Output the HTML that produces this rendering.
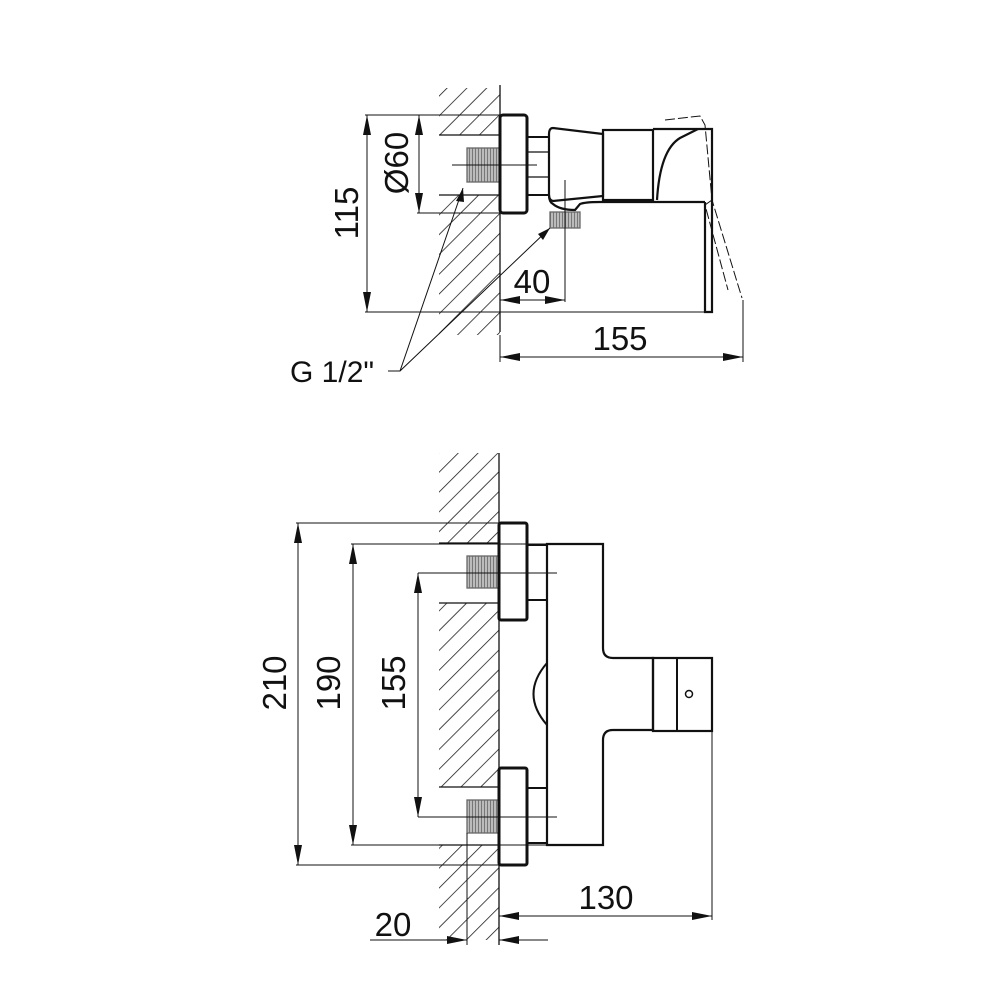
<!DOCTYPE html>
<html><head><style>html,body{margin:0;padding:0;background:#fff}svg{display:block}text{font-family:"Liberation Sans",Arial,sans-serif;fill:#111}</style></head>
<body>
<svg width="1000" height="1000" viewBox="0 0 1000 1000" xmlns="http://www.w3.org/2000/svg">
<defs>
<pattern id="h" patternUnits="userSpaceOnUse" width="14" height="14" patternTransform="rotate(45)">
<line x1="0" y1="0" x2="0" y2="14" stroke="#111" stroke-width="1.5"/>
</pattern>
<pattern id="t" patternUnits="userSpaceOnUse" width="3" height="3">
<rect width="3" height="3" fill="#bbb"/><line x1="1.5" y1="0" x2="1.5" y2="3" stroke="#666" stroke-width="0.8"/>
</pattern>
<marker id="b" viewBox="0 0 20 8" refX="20" refY="4" markerWidth="20" markerHeight="8" orient="auto-start-reverse" markerUnits="userSpaceOnUse"><path d="M0,0 L20,4 L0,8 z" fill="#111"/></marker>
</defs>
<g fill="none" stroke="#111" stroke-width="1.3">
<rect x="439" y="88" width="61" height="47" fill="url(#h)" stroke="none"/>
<rect x="439" y="195" width="61" height="140" fill="url(#h)" stroke="none"/>
<line x1="500" y1="85" x2="500" y2="332"/>
<line x1="439" y1="135" x2="500" y2="135"/>
<line x1="439" y1="195" x2="500" y2="195"/>
<rect x="467" y="148" width="33" height="34" fill="url(#t)" stroke="#666"/>
<rect x="500" y="115" width="27" height="98" rx="3" stroke-width="3"/>
<rect x="527" y="137" width="22" height="58" stroke-width="2"/>
<line x1="527" y1="152" x2="549" y2="152"/><line x1="527" y1="177" x2="549" y2="177"/>
<path d="M553,128 L603,134 L603,196 L553,201 Q549,200 549,195 L549,134 Q549,128 553,128 z" stroke-width="2.2"/>
<rect x="603" y="130" width="50" height="70" stroke-width="2.2"/>
<path d="M549,195 Q549,202 553,204 Q560,210 575,210 L580,204 Q585,202 600,202 L705,202" stroke-width="2.2"/>
<rect x="550" y="212" width="30" height="16" fill="url(#t)" stroke="#666"/>
<path d="M653,129 L712,129 L712,312 L705,312 L705,202" stroke-width="2.2"/>
<path d="M657,200 Q660,150 680,138 L698,129" stroke-width="2.2"/>
<path d="M665,120 L700,116 L705,125 L712,200 L738,285 L742,298 M712,200 L705,205 L728,290" stroke-width="1" stroke-dasharray="10,3"/>
<line x1="565" y1="180" x2="565" y2="302" stroke-width="1"/>
<line x1="452" y1="165" x2="537" y2="165" stroke-width="1"/>
<line x1="365" y1="115" x2="500" y2="115" stroke-width="1"/>
<line x1="365" y1="312" x2="707" y2="312" stroke-width="1"/>
<line x1="367" y1="115" x2="367" y2="312" stroke-width="1" marker-start="url(#b)" marker-end="url(#b)"/>
<line x1="417" y1="213" x2="500" y2="213" stroke-width="1"/>
<line x1="419" y1="115" x2="419" y2="213" stroke-width="1" marker-start="url(#b)" marker-end="url(#b)"/>
<line x1="500" y1="300" x2="565" y2="300" stroke-width="1" marker-start="url(#b)" marker-end="url(#b)"/>
<line x1="500" y1="335" x2="500" y2="362" stroke-width="1"/>
<line x1="743" y1="300" x2="743" y2="362" stroke-width="1"/>
<line x1="500" y1="357" x2="743" y2="357" stroke-width="1" marker-start="url(#b)" marker-end="url(#b)"/>
<path d="M388,371 L400,371 L463,188 M400,371 L550,228" stroke-width="1"/>
<path d="M463,188 l-7,13 l8,1 z M550,228 l-12,6 l5,6 z" fill="#111" stroke="none"/>
<rect x="439" y="453" width="60" height="90" fill="url(#h)" stroke="none"/>
<rect x="439" y="603" width="60" height="184" fill="url(#h)" stroke="none"/>
<rect x="439" y="845" width="60" height="95" fill="url(#h)" stroke="none"/>
<line x1="499" y1="453" x2="499" y2="945"/>
<line x1="439" y1="543" x2="499" y2="543"/><line x1="439" y1="603" x2="499" y2="603"/>
<line x1="439" y1="787" x2="499" y2="787"/><line x1="439" y1="845" x2="499" y2="845"/>
<rect x="467" y="556" width="32" height="32" fill="url(#t)" stroke="#666"/>
<rect x="467" y="800" width="32" height="33" fill="url(#t)" stroke="#666"/>
<rect x="499" y="523" width="28" height="97" rx="2" stroke-width="3"/>
<rect x="499" y="768" width="28" height="97" rx="2" stroke-width="3"/>
<rect x="527" y="545" width="20" height="55" stroke-width="2"/>
<rect x="527" y="788" width="20" height="55" stroke-width="2"/>
<path d="M547,544 L603,544 L603,648 Q603,658 613,658 L653,658 L653,730 L613,730 Q603,730 603,740 L603,845 L547,845 z" stroke-width="2.2"/>
<path d="M547,663 Q520,694 547,725" stroke-width="2"/>
<rect x="653" y="658" width="59" height="73" stroke-width="2.2"/>
<line x1="677" y1="658" x2="677" y2="731" stroke-width="2"/>
<circle cx="689" cy="694" r="3.5" stroke-width="1.5"/>
<line x1="418" y1="573" x2="557" y2="573" stroke-width="1"/>
<line x1="418" y1="817" x2="557" y2="817" stroke-width="1"/>
<line x1="296" y1="523" x2="499" y2="523" stroke-width="1"/>
<line x1="296" y1="865" x2="499" y2="865" stroke-width="1"/>
<line x1="298" y1="523" x2="298" y2="865" stroke-width="1" marker-start="url(#b)" marker-end="url(#b)"/>
<line x1="351" y1="544" x2="547" y2="544" stroke-width="1"/>
<line x1="351" y1="845" x2="547" y2="845" stroke-width="1"/>
<line x1="353" y1="544" x2="353" y2="845" stroke-width="1" marker-start="url(#b)" marker-end="url(#b)"/>
<line x1="418" y1="573" x2="418" y2="817" stroke-width="1" marker-start="url(#b)" marker-end="url(#b)"/>
<line x1="712" y1="731" x2="712" y2="920" stroke-width="1"/>
<line x1="499" y1="916" x2="712" y2="916" stroke-width="1" marker-start="url(#b)" marker-end="url(#b)"/>
<line x1="467" y1="833" x2="467" y2="945" stroke-width="1"/>
<line x1="370" y1="940" x2="467" y2="940" stroke-width="1" marker-end="url(#b)"/>
<line x1="548" y1="940" x2="499" y2="940" stroke-width="1" marker-end="url(#b)"/>
</g>
<g font-size="33">
<text x="360" y="215" text-anchor="middle" transform="rotate(-90 358 215)">115</text>
<text x="410" y="165" text-anchor="middle" transform="rotate(-90 408 165)">Ø60</text>
<text x="532" y="293" text-anchor="middle">40</text>
<text x="620" y="350" text-anchor="middle">155</text>
<text x="290" y="382" font-size="30">G 1/2"</text>
<text x="297" y="694" text-anchor="middle" transform="rotate(-90 286 694)">210</text>
<text x="351" y="694" text-anchor="middle" transform="rotate(-90 340 694)">190</text>
<text x="416" y="694" text-anchor="middle" transform="rotate(-90 405 694)">155</text>
<text x="606" y="909" text-anchor="middle">130</text>
<text x="393" y="936" text-anchor="middle">20</text>
</g>
</svg>
</body></html>
